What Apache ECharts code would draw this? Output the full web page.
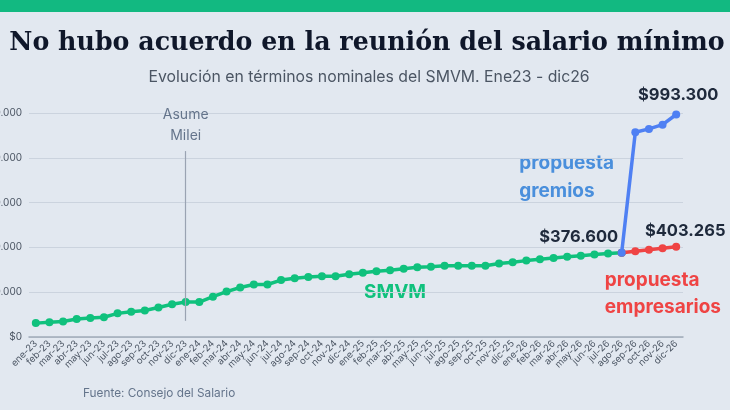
<!DOCTYPE html>
<html>
<head>
<meta charset="utf-8">
<script src="https://cdn.jsdelivr.net/npm/echarts@6/dist/echarts.min.js"></script>
<style>
  html, body { margin: 0; padding: 0; background: #e2e8f0; }
  #chart { width: 730px; height: 410px; }
</style>
</head>
<body>
<div id="chart"></div>
<script>
// meses ene-23 .. dic-26
var months = ['ene-23','feb-23','mar-23','abr-23','may-23','jun-23','jul-23','ago-23','sep-23','oct-23','nov-23','dic-23',
  'ene-24','feb-24','mar-24','abr-24','may-24','jun-24','jul-24','ago-24','sep-24','oct-24','nov-24','dic-24',
  'ene-25','feb-25','mar-25','abr-25','may-25','jun-25','jul-25','ago-25','sep-25','oct-25','nov-25','dic-25',
  'ene-26','feb-26','mar-26','abr-26','may-26','jun-26','jul-26','ago-26','sep-26','oct-26','nov-26','dic-26'];

// SMVM ene-23 .. ago-26
var smvm = [61953, 65427, 69500, 80342, 84512, 87987, 105500, 112500, 118000, 132000, 146000, 156000,
  156000, 180000, 202800, 221052, 234315, 234315, 254231, 262432, 268056, 271571, 271571, 279718,
  286711, 293600, 298000, 305000, 311000, 313400, 317800, 317800, 317800, 317800, 328400, 334000,
  341000, 346800, 352400, 357800, 363000, 367800, 372400, 376600];

// propuestas ago-26 .. dic-26
var gremios = [376600, 914000, 929000, 948000, 993300];
var empresarios = [376600, 382800, 389700, 396300, 403265];

var yTicks = [0, 200000, 400000, 600000, 800000, 1000000];

function pad(arr) {
  var out = [];
  for (var i = 0; i < months.length - arr.length; i++) out.push(null);
  return out.concat(arr);
}

function fmt(v) {
  return '$' + String(v).replace(/\B(?=(\d{3})+(?!\d))/g, '.');
}

var myChart = echarts.init(document.getElementById('chart'));

var option = {
  backgroundColor: '#e2e8f0',
  animation: false,
  title: [
    {
      text: 'No hubo acuerdo en la reunión del salario mínimo',
      left: 362, top: 26, textAlign: 'center',
      textStyle: { fontFamily: 'DejaVu Serif', fontWeight: 'bold', fontSize: 25.3, color: '#0f172a' }
    },
    {
      text: 'Evolución en términos nominales del SMVM. Ene23 - dic26',
      left: 364, top: 64, textAlign: 'center',
      textStyle: { fontFamily: 'Inter', fontWeight: 'normal', fontSize: 15.8, color: '#4b5563' }
    },
    {
      text: 'Fuente: Consejo del Salario',
      left: 78, top: 382,
      textStyle: { fontFamily: 'Inter', fontWeight: 'normal', fontSize: 11.8, color: '#64748b' }
    }
  ],
  graphic: [
    { type: 'rect', left: 0, top: 0, shape: { width: 730, height: 12 }, style: { fill: '#12b981' } },
    { type: 'text', right: 116, top: 149,
      style: { text: 'propuesta\ngremios', align: 'right', fill: '#4a8fdc', font: 'bold 19px Inter', lineHeight: 28 } },
    { type: 'text', right: 9, top: 267,
      style: { text: 'propuesta\nempresarios', align: 'right', fill: '#ef4444', font: 'bold 19px Inter', lineHeight: 27 } },
    { type: 'text', left: 364, top: 283,
      style: { text: 'SMVM', fill: '#10c17d', font: 'bold 19px Inter' } }
  ],
  grid: { left: 29, right: 47, top: 113, bottom: 73, containLabel: false, outerBoundsMode: 'none' },
  xAxis: {
    type: 'category',
    data: months,
    boundaryGap: true,
    axisLine: { lineStyle: { color: '#a0aab8', width: 1.5 } },
    axisTick: { show: false },
    axisLabel: { interval: 0, rotate: 45, fontSize: 9.5, fontFamily: 'Inter', color: '#4b5563', margin: 5 }
  },
  yAxis: {
    type: 'value',
    min: yTicks[0], max: yTicks[yTicks.length - 1], interval: 200000,
    axisLine: { show: false },
    axisTick: { show: false },
    splitLine: { lineStyle: { color: '#cbd3de', width: 1.2 } },
    axisLabel: { fontSize: 10, fontFamily: 'Inter', color: '#4b5563', margin: 7, formatter: fmt }
  },
  series: [
    {
      name: 'SMVM',
      type: 'line',
      data: smvm,
      color: '#10c17d',
      symbol: 'circle', symbolSize: 8,
      lineStyle: { width: 3.5 },
      z: 3,
      label: {
        show: true, position: 'top', offset: [-43, 2],
        fontFamily: 'Inter', fontWeight: 'bold', fontSize: 16.5, color: '#1e293b',
        formatter: function (p) { return p.dataIndex === smvm.length - 1 ? fmt(p.value) : ''; }
      },
      markLine: {
        silent: true, symbol: 'none',
        lineStyle: { color: '#9aa3b2', width: 1.2, type: 'solid' },
        label: {
          show: true, position: 'end', formatter: 'Asume\nMilei', distance: 5,
          fontFamily: 'Inter', fontSize: 14, color: '#64748b', lineHeight: 21
        },
        data: [[{ coord: ['dic-23', 72000] }, { coord: ['dic-23', 830000] }]]
      }
    },
    {
      name: 'propuesta empresarios',
      type: 'line',
      data: pad(empresarios),
      color: '#ef4444',
      symbol: 'circle', symbolSize: 8,
      lineStyle: { width: 3.5 },
      z: 4,
      label: {
        show: true, position: 'top', offset: [9, 2],
        fontFamily: 'Inter', fontWeight: 'bold', fontSize: 16.5, color: '#1e293b',
        formatter: function (p) { return p.dataIndex === months.length - 1 ? fmt(p.value) : ''; }
      }
    },
    {
      name: 'propuesta gremios',
      type: 'line',
      data: pad(gremios),
      color: '#4f80f3',
      symbol: 'circle', symbolSize: 8,
      lineStyle: { width: 3.5 },
      z: 5,
      label: {
        show: true, position: 'top', offset: [2, -2],
        fontFamily: 'Inter', fontWeight: 'bold', fontSize: 16.5, color: '#1e293b',
        formatter: function (p) { return p.dataIndex === months.length - 1 ? fmt(p.value) : ''; }
      }
    }
  ]
};

myChart.setOption(option);
window.onresize = function () {
  myChart.resize();
};
</script>
</body>
</html>
